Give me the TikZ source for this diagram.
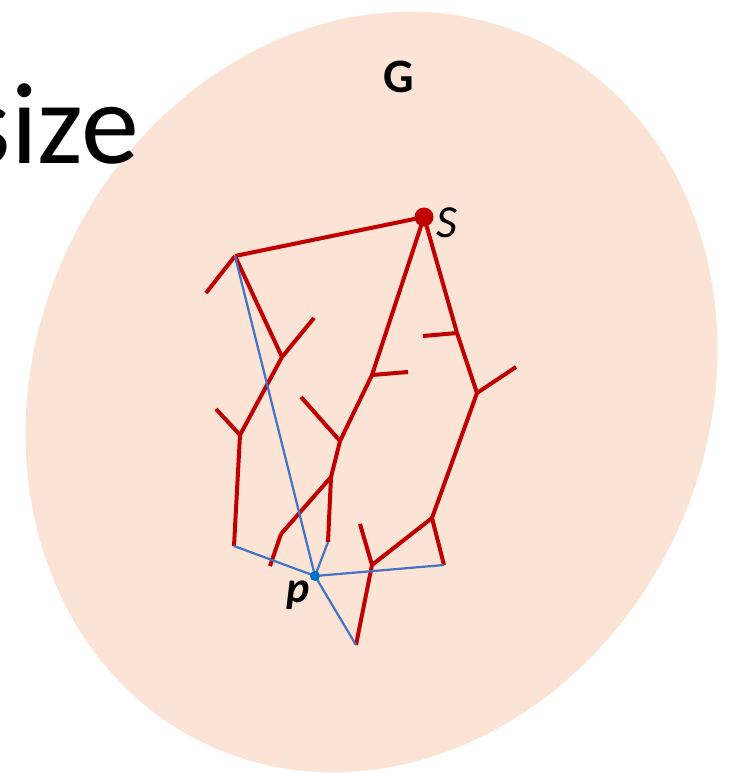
\documentclass[tikz,border=0pt]{standalone}
\usepackage{fontspec}
\setmainfont{Carlito}
\usepackage{xcolor}
\definecolor{graph-fill}{HTML}{FBE3D6}
\definecolor{tree-red}{HTML}{C00000}
\definecolor{path-blue}{HTML}{4472C4}
\definecolor{dot-blue}{HTML}{0070C0}
\usepackage{tikz}

\tikzset{
    tree/.style={tree-red, line width=4pt},
    cross/.style={path-blue, line width=2.2pt},
}

\begin{document}
\begin{tikzpicture}[x=1pt, y=-1pt]

    \useasboundingbox (0,0) rectangle (729,773);

    % Graph G
    \fill[graph-fill, rotate around={-24.8:(371.5,392)}] (371.5,392) ellipse [x radius=336, y radius=389];

    % Title, cut at the left edge
    \node[anchor=base east, inner sep=0, font=\fontsize{116}{120}\selectfont] (title) at (139,163) {size};
    \node[anchor=base, inner sep=0, font=\bfseries\fontsize{48}{52}\selectfont] (glabel) at (399,93) {G};

    % Vertices
    \coordinate (s) at (424,217);
    \coordinate (a) at (235,256);
    \coordinate (a1) at (206,293);
    \coordinate (b) at (282,357);
    \coordinate (b1) at (314,318);
    \coordinate (c) at (240,435);
    \coordinate (c1) at (216,409);
    \coordinate (d) at (234,546);
    \coordinate (e) at (372,375);
    \coordinate (e1) at (408,372);
    \coordinate (f) at (340,441);
    \coordinate (f1) at (301,397);
    \coordinate (g) at (331,477);
    \coordinate (g1) at (328,542);
    \coordinate (h) at (281,534);
    \coordinate (h1) at (270,566);
    \coordinate (i) at (457,333);
    \coordinate (i1) at (423,336);
    \coordinate (j) at (477,393);
    \coordinate (j1) at (516,367);
    \coordinate (k) at (432,518);
    \coordinate (l) at (372,565);
    \coordinate (l1) at (360,524);
    \coordinate (m) at (444,565);
    \coordinate (n) at (356,645);
    \coordinate (p) at (315,576);

    % Left branch
    \draw[tree] (s) -- (a);
    \draw[tree] (a) -- (a1);
    \draw[tree] (a) -- (b);
    \draw[tree] (b) -- (b1);
    \draw[tree] (b) -- (c);
    \draw[tree] (c) -- (c1);
    \draw[tree] (c) -- (d);

    % Middle branch
    \draw[tree] (s) -- (e);
    \draw[tree] (e) -- (e1);
    \draw[tree] (e) -- (f);
    \draw[tree] (f) -- (f1);
    \draw[tree] (f) -- (g);
    \draw[tree] (g) -- (h);
    \draw[tree] (h) -- (h1);
    \draw[tree] (g) -- (g1);

    % Right branch
    \draw[tree] (s) -- (i);
    \draw[tree] (i) -- (i1);
    \draw[tree] (i) -- (j);
    \draw[tree] (j) -- (j1);
    \draw[tree] (j) -- (k);
    \draw[tree] (k) -- (l);
    \draw[tree] (k) -- (m);
    \draw[tree] (l) -- (l1);
    \draw[tree] (l) -- (n);

    % Edges to p
    \draw[cross] (a) -- (p);
    \draw[cross] (d) -- (p);
    \draw[cross] (g1) -- (p);
    \draw[cross] (m) -- (p);
    \draw[cross] (n) -- (p);

    % Source and target
    \fill[tree-red] (s) circle (9.5);
    \fill[dot-blue] (p) circle (5);
    \node[anchor=west, inner sep=0, font=\itshape\fontsize{46}{48}\selectfont] (slabel) at (436,223) {S};
    \node[anchor=base, inner sep=0, font=\bfseries\itshape\fontsize{44}{46}\selectfont] (plabel) at (298,602) {p};

\end{tikzpicture}
\end{document}
